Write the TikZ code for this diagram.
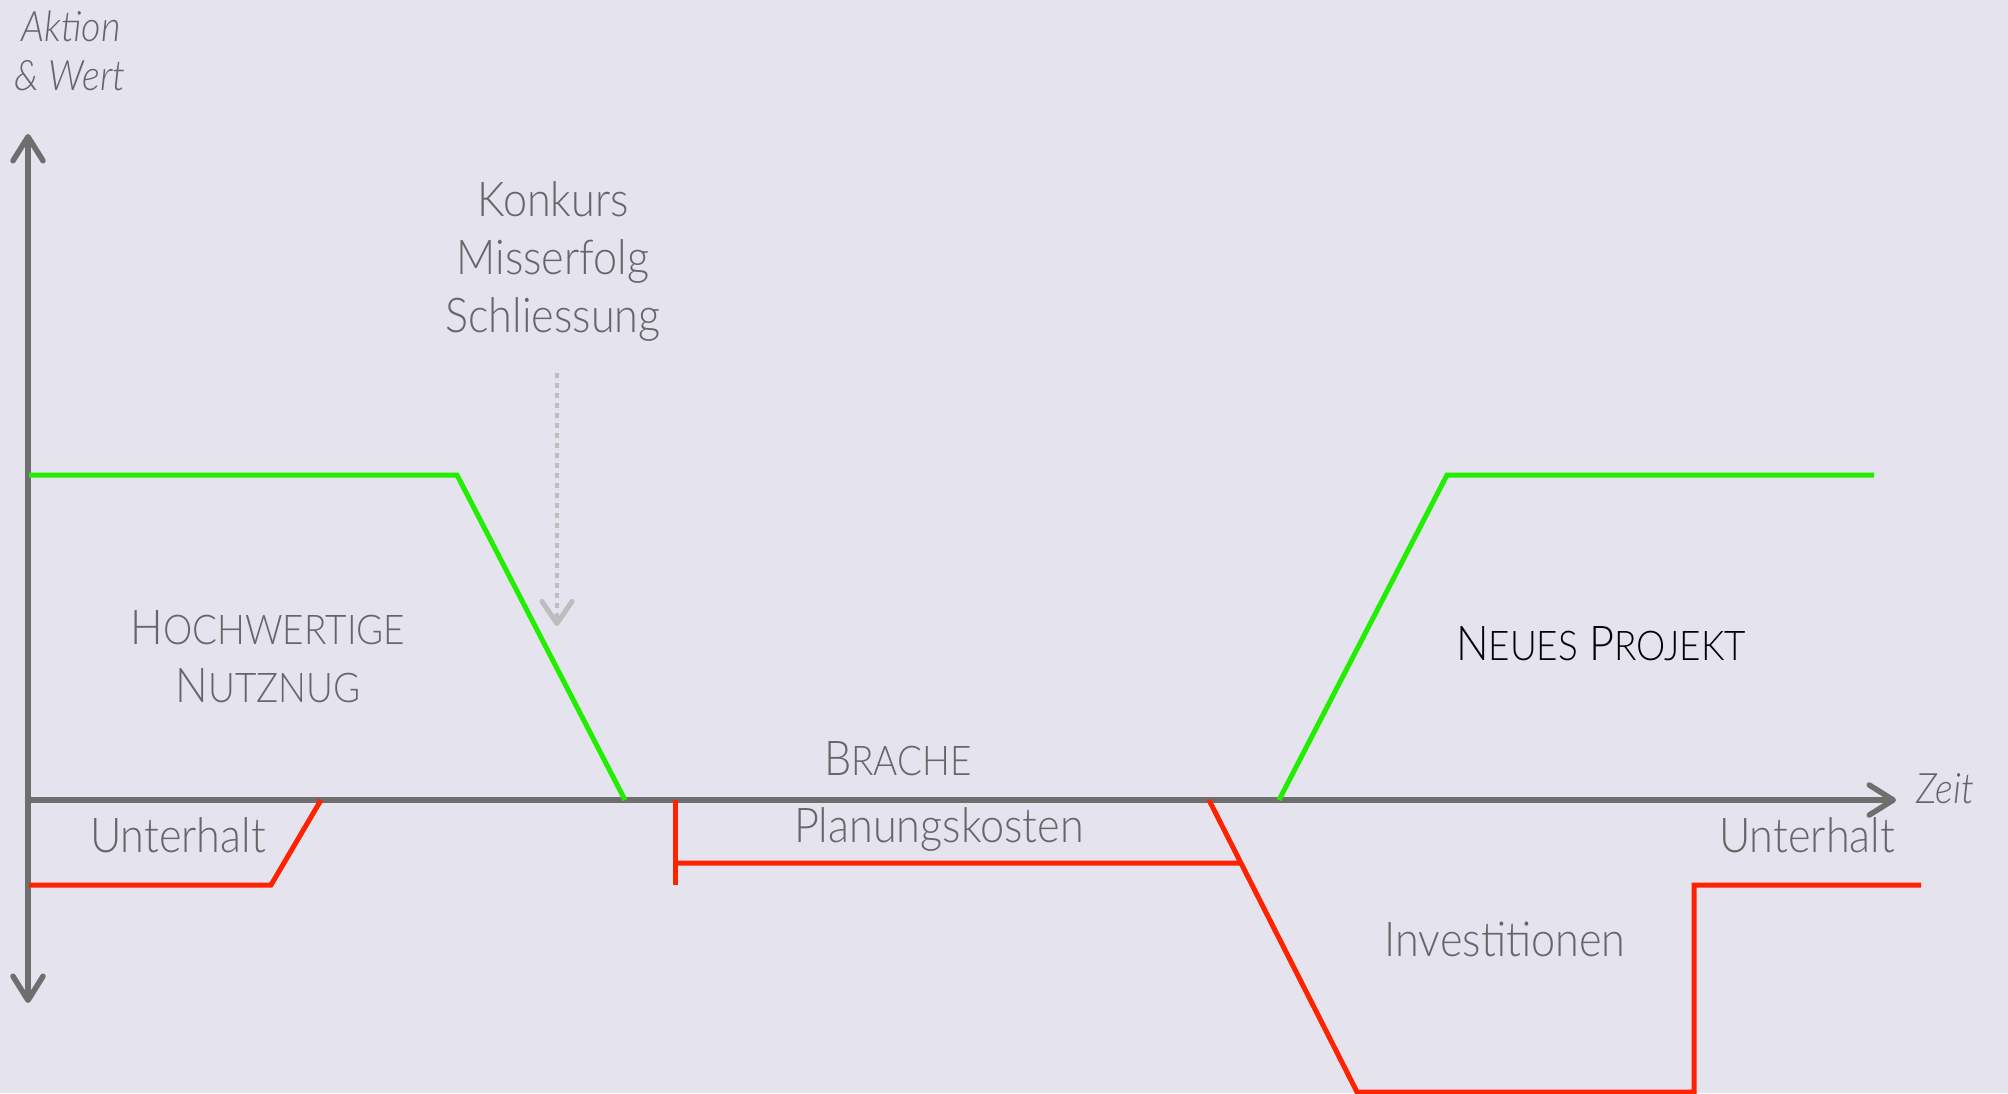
\documentclass[tikz,border=0pt]{standalone}
\usepackage{fontspec}
\setmainfont{Lato}[UprightFont=* Light, ItalicFont=* Light Italic, FakeStretch=0.9]
\usetikzlibrary{arrows.meta,calc}
\definecolor{bgc}{HTML}{E4E3EE}
\definecolor{axisc}{HTML}{6E6E6E}
\definecolor{txtc}{HTML}{666666}
\definecolor{posc}{HTML}{22EE00}
\definecolor{negc}{HTML}{FF2200}
\definecolor{hintc}{HTML}{BDBDBD}
\newcommand\bigtxt{\fontsize{48}{58}\selectfont}
\newcommand\smallcap{\fontsize{41}{58}\selectfont}
\newcommand\sclabel[2]{{\bigtxt #1}{\smallcap #2}}
\tikzset{
  axisline/.style={draw=axisc, line width=5.5pt, line cap=round,
    arrows={-{Straight Barb[length=24pt,width=30pt,line width=5.5pt,round]}}},
  posline/.style={draw=posc, line width=5pt, line join=miter},
  negline/.style={draw=negc, line width=5pt, line join=miter},
  hintarrow/.style={draw=hintc, line width=4.5pt, dash pattern=on 5pt off 5pt,
    arrows={-{Straight Barb[length=22pt,width=30pt,line width=5pt,round]}}},
  lbl/.style={text=txtc, font=\bigtxt, align=center, inner sep=0pt},
  axlbl/.style={text=txtc, font=\fontsize{42}{50}\selectfont\itshape, align=center, inner sep=0pt}
}
\begin{document}
\begin{tikzpicture}[x=1pt,y=-1pt]
  \fill[bgc] (0,0) rectangle (2008,1093);
  \useasboundingbox (0,0) rectangle (2008,1093);

  % axes
  \coordinate (O) at (28,800);
  \coordinate (ytop) at (28,134);
  \coordinate (ybot) at (28,1003);
  \coordinate (xend) at (1896,800);
  \draw[axisline] (O) -- (ytop);
  \draw[axisline] (O) -- (ybot);
  \draw[axisline] (O) -- (xend);

  % value curve: old use, decline, new project
  \coordinate (g1) at (29,475);
  \coordinate (g2) at (457,475);
  \coordinate (g3) at (625,800);
  \coordinate (g4) at (1279,800);
  \coordinate (g5) at (1447,475);
  \coordinate (g6) at (1874,475);
  \draw[posline] (g1) -- (g2) -- (g3);
  \draw[posline] (g4) -- (g5) -- (g6);

  % cost curve: maintenance, planning, investment, maintenance
  \coordinate (r1) at (29,885);
  \coordinate (r2) at (271,885);
  \coordinate (r3) at (321,800);
  \draw[negline] (r1) -- (r2) -- (r3);

  \coordinate (p1) at (675,800);
  \coordinate (p2) at (675,885);
  \coordinate (p3) at (675,863);
  \coordinate (c1) at (1209,800);
  \coordinate (c2) at (1357,1092);
  \coordinate (p4) at ($(c1)!0.216!(c2)$);
  \coordinate (c3) at (1694,1092);
  \coordinate (c4) at (1694,885);
  \coordinate (c5) at (1921,885);
  \draw[negline] (p1) -- (p2);
  \draw[negline] (p3) -- (p4);
  \draw[negline] (c1) -- (c2) -- (c3) -- (c4) -- (c5);

  % event pointer
  \coordinate (hs) at (557,373);
  \coordinate (he) at (557,626);
  \draw[hintarrow] (hs) -- (he);

  % labels
  \node[axlbl] (ylab1) at (71,26) {Aktion};
  \node[axlbl] (ylab2) at (70,76) {\& Wert};
  \node[axlbl, anchor=west] (xlab) at (1916,789) {Zeit};
  \node[lbl] (event) at (553,261) {Konkurs\\Misserfolg\\Schliessung};
  \node[lbl] (old) at (268,657) {\sclabel{H}{OCHWERTIGE}\\\sclabel{N}{UTZNUG}};
  \node[lbl, text=black] (new) at (1601,644) {\sclabel{N}{EUES} \sclabel{P}{ROJEKT}};
  \node[lbl] (brache) at (898,759) {\sclabel{B}{RACHE}};
  \node[lbl] (plan) at (939,829) {Planungskosten};
  \node[lbl] (maint1) at (178,835) {Unterhalt};
  \node[lbl] (maint2) at (1807,835) {Unterhalt};
  \node[lbl] (inv) at (1505,939) {Investitionen};
\end{tikzpicture}
\end{document}
